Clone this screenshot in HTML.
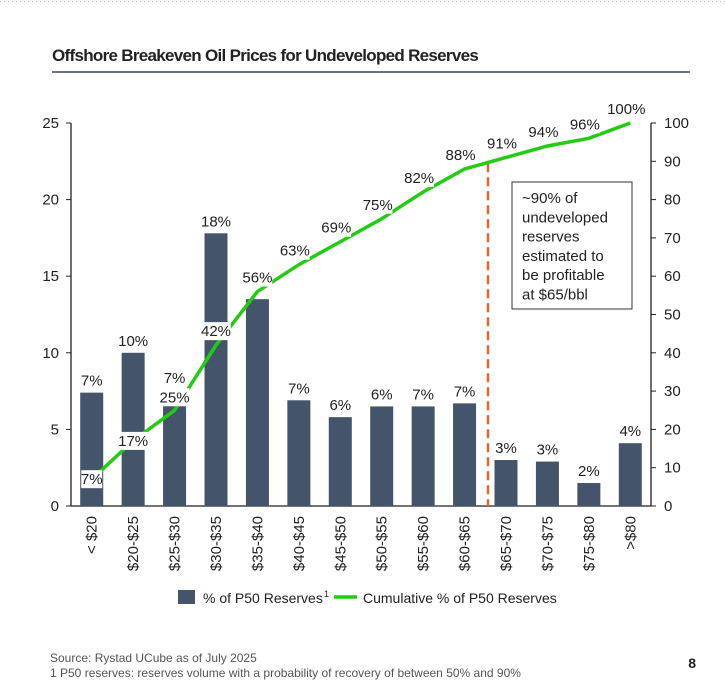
<!DOCTYPE html>
<html><head><meta charset="utf-8"><style>
body{margin:0;background:#fff;font-family:"Liberation Sans",sans-serif;}
#wrap{position:relative;width:725px;height:692px;overflow:hidden;background:#fff}
</style></head><body>
<div id="wrap">
<svg id="chart" width="725" height="692" style="position:absolute;left:0;top:0;font-family:'Liberation Sans',sans-serif">
<line x1="0" y1="1.5" x2="725" y2="1.5" stroke="#bbb" stroke-dasharray="1,3"/>
<text x="52" y="61" font-size="17" font-weight="bold" fill="#222" letter-spacing="-0.7">Offshore Breakeven Oil Prices for Undeveloped Reserves</text>
<line x1="52" y1="72" x2="690" y2="72" stroke="#6b7380" stroke-width="2"/>
<g id="g"></g>
<text x="50" y="662" font-size="12" fill="#555">Source: Rystad UCube as of July 2025</text>
<text x="50" y="677" font-size="12" fill="#555">1 P50 reserves: reserves volume with a probability of recovery of between 50% and 90%</text>
<text x="696" y="668" font-size="14" font-weight="bold" fill="#222" text-anchor="end">8</text>
</svg>
</div>
<script>
const categories=["< $20","$20-$25","$25-$30","$30-$35","$35-$40","$40-$45","$45-$50","$50-$55","$55-$60","$60-$65","$65-$70","$70-$75","$75-$80",">$80"];
const barValues=[7.4,10.0,6.6,17.8,13.5,6.9,5.8,6.5,6.5,6.7,3.0,2.9,1.5,4.1];
const barLabels=["7%","10%","7%","18%","","7%","6%","6%","7%","7%","3%","3%","2%","4%"];
const cumValues=[7,17,25,42,56,63,69,75,82,88,91,94,96,100];
const cumLabels=["7%","17%","25%","42%","56%","63%","69%","75%","82%","88%","91%","94%","96%","100%"];
const leftTicks=[0,5,10,15,20,25];
const rightTicks=[0,10,20,30,40,50,60,70,80,90,100];
const NS="http://www.w3.org/2000/svg";
const g=document.getElementById('g');
const x0=71,x1=651,yb=506,yt=123;
const step=(x1-x0)/categories.length;
const xc=i=>x0+step*(i+0.5);
const yL=v=>yb-(v/25)*(yb-yt);
const yR=v=>yb-(v/100)*(yb-yt);
function el(t,a){const e=document.createElementNS(NS,t);for(const k in a)e.setAttribute(k,a[k]);g.appendChild(e);return e;}
function txt(x,y,s,a){const e=el('text',Object.assign({x:x,y:y,'font-size':15,fill:'#222'},a||{}));e.textContent=s;return e;}
let a=el('line',{x1:x0,y1:yt,x2:x0,y2:yb,stroke:'#222','stroke-width':1.3});

a=el('line',{x1:x1,y1:yt,x2:x1,y2:yb,stroke:'#222','stroke-width':1.3});

a=el('line',{x1:x0,y1:yb,x2:x1,y2:yb,stroke:'#222','stroke-width':1.3});

leftTicks.forEach(v=>{const y=yL(v);
 const l=el('line',{x1:x0-5,y1:y,x2:x0,y2:y,stroke:'#222'});
 const t=txt(x0-12,y+5,String(v),{'text-anchor':'end'});});
rightTicks.forEach(v=>{const y=yR(v);
 const l=el('line',{x1:x1,y1:y,x2:x1+5,y2:y,stroke:'#222'});
 const t=txt(x1+13,y+5,String(v));});
const bw=23;
barValues.forEach((v,i)=>{const r=el('rect',{x:xc(i)-bw/2,y:yL(v),width:bw,height:yb-yL(v),fill:'#44546a'});
 
 const t=el('text',{x:xc(i)+5,y:yb+10,'font-size':15,fill:'#222','text-anchor':'end',transform:`rotate(-90 ${xc(i)+5} ${yb+10})`});
 t.textContent=categories[i];});
a=el('line',{x1:488,y1:yR(90)+2,x2:488,y2:yb,stroke:'#e8642c','stroke-width':2.5,'stroke-dasharray':'9,5'});

const pl=el('polyline',{points:cumValues.map((v,i)=>xc(i)+','+yR(v)).join(' '),fill:'none',stroke:'#22cc11','stroke-width':3.5});

function lab(x,y,s,name){const w=s.length*8.5+4;const r=el('rect',{x:x-w/2,y:y-14,width:w,height:18,fill:'#fff'});
 
 const t=txt(x,y,s,{'text-anchor':'middle'});}
const cumDy=[5,5,-8,-9,-9,-9,-9,-9,-9,-9,-9,-9,-9,-9];
cumValues.forEach((v,i)=>{lab(xc(i)-(i==13?4:0)-(i>=5&&i<13?4:0),yR(v)+cumDy[i],cumLabels[i],'cumulative-value-label');});
const barDy=[-7,-7,-22,-7,-7,-7,-7,-7,-7,-7,-7,-7,-7,-7];
barLabels.forEach((s,i)=>{if(s)lab(xc(i),yL(barValues[i])+barDy[i],s,'bar-value-label');});
const b=el('rect',{x:512,y:182,width:120,height:127,fill:'#fff',stroke:'#333'});

["~90% of","undeveloped","reserves","estimated to","be profitable","at $65/bbl"].forEach((s,i)=>{const t=txt(522,203+i*19.3,s);});
a=el('rect',{x:178,y:590,width:17,height:14,fill:'#44546a'});
let t=txt(203,603,'% of P50 Reserves',{'font-size':14});
t=txt(324,597,'1',{'font-size':9});
a=el('line',{x1:334,y1:597,x2:357,y2:597,stroke:'#22cc11','stroke-width':3.5});
t=txt(363,603,'Cumulative % of P50 Reserves',{'font-size':14});
</script>
</body></html>
